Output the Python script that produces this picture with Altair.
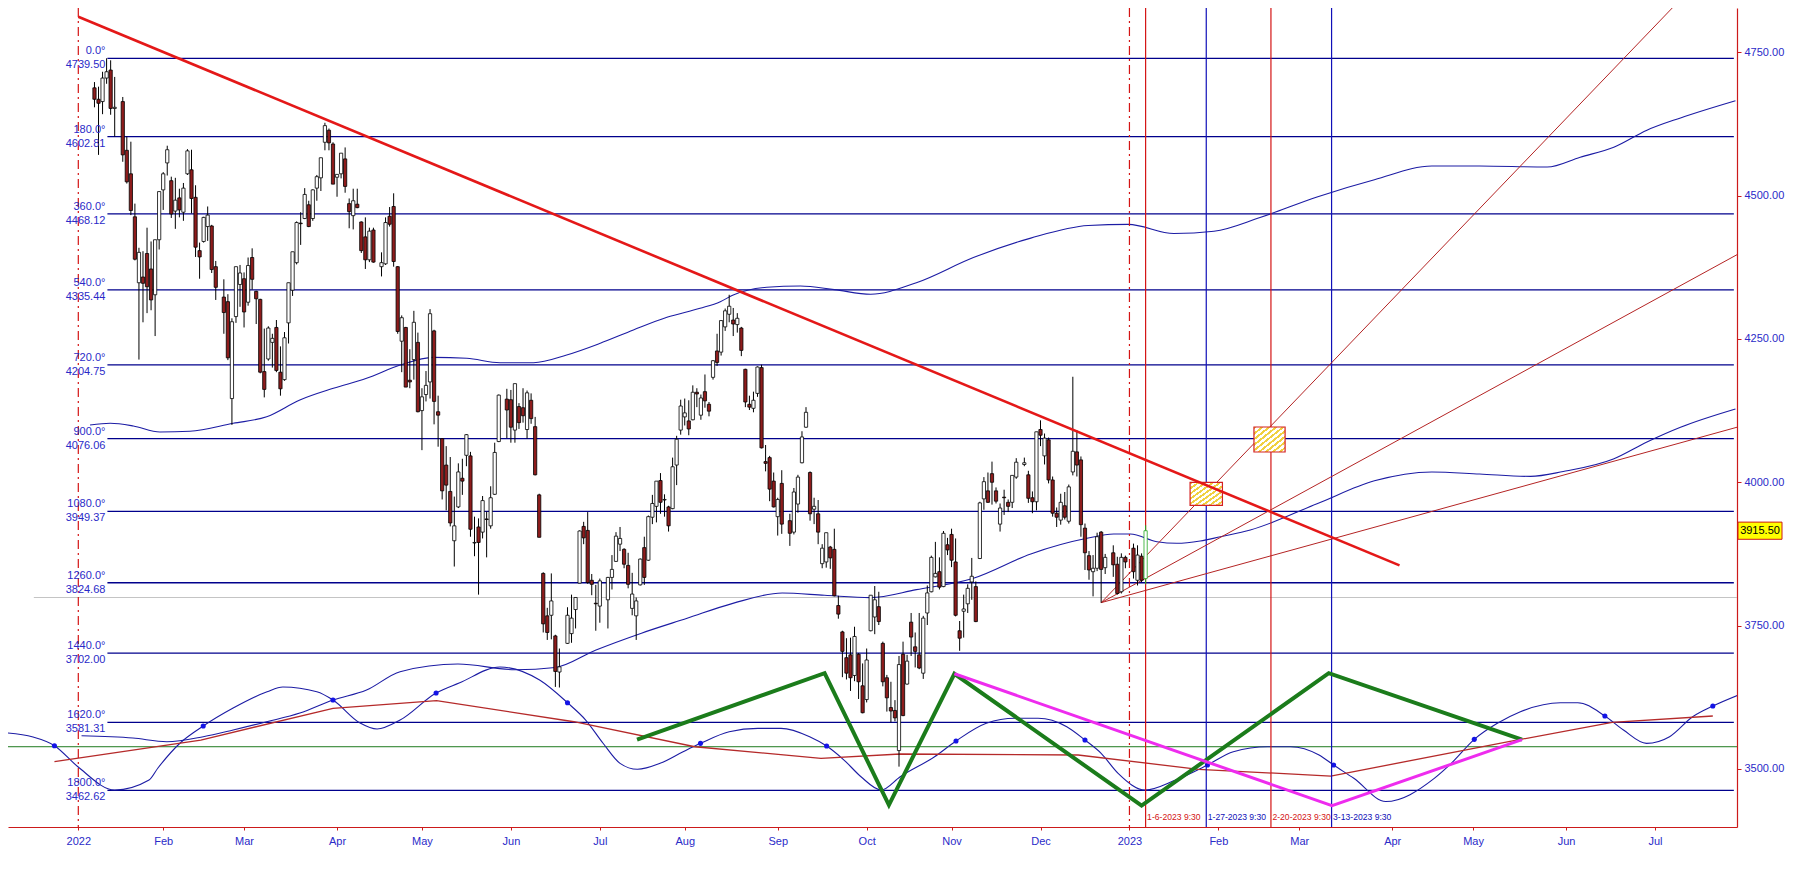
import altair as alt
import numpy as np
import pandas as pd

BASE_DAY = "2022-01-03"  # weekday index 0 of the time axis

# ---------------- candles: (day, open, high, low, close) ----------------
JAN22 = [(7, 4688, 4698, 4654, 4668), (10, 4668, 4690, 4571, 4661), (11, 4664, 4716, 4642, 4705),
         (12, 4705, 4739.5, 4695, 4716), (13, 4719, 4736, 4641, 4652), (14, 4652, 4707, 4603, 4654),
         (18, 4664, 4672, 4559, 4571), (19, 4579, 4603, 4521, 4524), (20, 4538, 4594, 4466, 4474),
         (21, 4463, 4486, 4387, 4389), (24, 4348, 4409, 4214, 4401), (25, 4358, 4403, 4279, 4347),
         (26, 4399, 4444, 4295, 4341), (27, 4372, 4420, 4300, 4318), (28, 4327, 4423, 4255, 4423),
         (31, 4423, 4507, 4406, 4507)]
FEB22 = [(1, 4510, 4541, 4475, 4538), (2, 4557, 4587, 4535, 4580), (3, 4526, 4533, 4461, 4468),
         (4, 4473, 4531, 4442, 4492), (7, 4496, 4512, 4462, 4475), (8, 4471, 4522, 4456, 4513),
         (9, 4538, 4581, 4536, 4578), (10, 4545, 4580, 4469, 4495), (11, 4497, 4518, 4393, 4410),
         (14, 4404, 4418, 4355, 4393), (15, 4420, 4463, 4418, 4462), (16, 4446, 4481, 4421, 4466),
         (17, 4447, 4449, 4365, 4371), (18, 4376, 4386, 4318, 4340), (22, 4323, 4354, 4259, 4296),
         (23, 4315, 4328, 4213, 4217), (24, 4146, 4286, 4100, 4280), (25, 4289, 4376, 4278, 4376),
         (28, 4345, 4379, 4306, 4365)]
MAR22 = [(1, 4355, 4366, 4270, 4297), (2, 4314, 4392, 4308, 4378), (3, 4392, 4408, 4336, 4354),
         (4, 4333, 4334, 4276, 4320), (7, 4319, 4320, 4190, 4192), (8, 4193, 4268, 4148, 4162),
         (9, 4215, 4272, 4212, 4269), (10, 4244, 4259, 4200, 4251), (11, 4270, 4283, 4192, 4195),
         (14, 4192, 4237, 4151, 4163), (15, 4179, 4262, 4177, 4252), (16, 4278, 4348, 4242, 4348),
         (17, 4335, 4402, 4325, 4402), (18, 4383, 4455, 4380, 4453), (21, 4452, 4471, 4414, 4451),
         (22, 4460, 4513, 4459, 4502), (23, 4484, 4491, 4445, 4446), (24, 4460, 4511, 4456, 4510),
         (25, 4513, 4536, 4491, 4533), (28, 4531, 4566, 4508, 4566), (29, 4593, 4627, 4579, 4622),
         (30, 4614, 4617, 4579, 4592), (31, 4590, 4593, 4520, 4520)]
APR22 = [(1, 4532, 4537, 4498, 4537), (4, 4538, 4574, 4530, 4574), (5, 4564, 4584, 4505, 4516),
         (6, 4486, 4495, 4443, 4472), (7, 4465, 4512, 4441, 4491), (8, 4485, 4512, 4478, 4479),
         (11, 4454, 4455, 4400, 4404), (12, 4428, 4462, 4372, 4388), (13, 4388, 4444, 4384, 4438),
         (14, 4440, 4444, 4383, 4384), (18, 4376, 4401, 4359, 4383), (19, 4381, 4462, 4379, 4453),
         (20, 4464, 4480, 4446, 4450), (21, 4481, 4504, 4376, 4385), (22, 4376, 4377, 4259, 4263),
         (25, 4246, 4291, 4192, 4287), (26, 4270, 4271, 4166, 4166), (27, 4178, 4232, 4164, 4175),
         (28, 4214, 4299, 4179, 4279), (29, 4244, 4261, 4122, 4123)]
MAY22 = [(2, 4125, 4164, 4056, 4149), (3, 4153, 4194, 4141, 4169), (4, 4175, 4302, 4146, 4294),
         (5, 4264, 4266, 4101, 4141), (6, 4123, 4151, 4062, 4117), (9, 4076, 4077, 3970, 3985),
         (10, 4030, 4063, 3951, 3995), (11, 3984, 4044, 3923, 3929), (12, 3898, 3975, 3853, 3924),
         (13, 3957, 4033, 3955, 4018), (16, 4007, 4041, 3978, 4002), (17, 4047, 4084, 4028, 4083),
         (18, 4046, 4053, 3905, 3918), (19, 3894, 3940, 3871, 3895), (20, 3922, 3937, 3804, 3895),
         (23, 3913, 3976, 3902, 3968), (24, 3936, 3949, 3869, 3935), (25, 3924, 3993, 3919, 3973),
         (26, 3979, 4069, 3978, 4052), (27, 4071, 4153, 4070, 4152), (31, 4145, 4163, 4077, 4126)]
JUN22 = [(1, 4144, 4161, 4069, 4096), (2, 4091, 4172, 4069, 4172), (3, 4132, 4138, 4093, 4104),
         (6, 4130, 4164, 4104, 4116), (7, 4092, 4160, 4076, 4156), (8, 4143, 4155, 4102, 4111),
         (9, 4097, 4114, 4012, 4013), (10, 3978, 3980, 3904, 3904), (13, 3841, 3843, 3738, 3753),
         (14, 3767, 3781, 3725, 3738), (15, 3768, 3841, 3726, 3793), (16, 3732, 3734, 3643, 3670),
         (17, 3669, 3710, 3642, 3678), (21, 3719, 3782, 3718, 3768), (22, 3736, 3804, 3720, 3763),
         (23, 3778, 3799, 3745, 3799), (24, 3824, 3916, 3824, 3915), (27, 3923, 3931, 3892, 3903),
         (28, 3916, 3948, 3823, 3825), (29, 3829, 3840, 3803, 3822), (30, 3789, 3821, 3741, 3788)]
JUL22 = [(1, 3784, 3832, 3755, 3828), (5, 3795, 3835, 3745, 3834), (6, 3834, 3873, 3813, 3848),
         (7, 3862, 3913, 3861, 3906), (8, 3892, 3922, 3880, 3902), (11, 3883, 3885, 3850, 3857),
         (12, 3855, 3877, 3815, 3822), (13, 3780, 3842, 3768, 3805), (14, 3767, 3799, 3725, 3793),
         (15, 3821, 3867, 3820, 3866), (18, 3886, 3905, 3821, 3834), (19, 3864, 3942, 3863, 3940),
         (20, 3939, 3978, 3927, 3963), (21, 3958, 4002, 3930, 4002), (22, 4003, 4016, 3945, 3965),
         (25, 3969, 3979, 3940, 3970), (26, 3957, 3959, 3914, 3924), (27, 3954, 4043, 3953, 4027),
         (28, 4030, 4081, 3995, 4075), (29, 4091, 4144, 4083, 4133)]
AUG22 = [(1, 4114, 4146, 4099, 4121), (2, 4107, 4143, 4082, 4093), (3, 4109, 4169, 4108, 4157),
         (4, 4157, 4164, 4131, 4154), (5, 4117, 4153, 4109, 4147), (8, 4158, 4188, 4130, 4142),
         (9, 4136, 4140, 4115, 4124), (10, 4183, 4213, 4179, 4212), (11, 4229, 4259, 4203, 4209),
         (12, 4227, 4283, 4221, 4282), (15, 4271, 4303, 4264, 4299), (16, 4293, 4327, 4279, 4307),
         (17, 4283, 4304, 4255, 4276), (18, 4275, 4295, 4261, 4286), (19, 4269, 4271, 4220, 4230),
         (22, 4197, 4198, 4131, 4140), (23, 4136, 4151, 4126, 4131), (24, 4129, 4158, 4122, 4143),
         (25, 4155, 4202, 4149, 4201), (26, 4200, 4205, 4059, 4060), (29, 4036, 4065, 4019, 4033),
         (30, 4043, 4046, 3967, 3988), (31, 4002, 4017, 3956, 3957)]
SEP22 = [(1, 3940, 3973, 3907, 3970), (2, 3998, 4021, 3910, 3927), (6, 3933, 3945, 3889, 3911),
         (7, 3913, 3990, 3909, 3983), (8, 3962, 4013, 3947, 4009), (9, 4034, 4089, 4033, 4079),
         (12, 4096, 4131, 4095, 4122), (13, 4017, 4019, 3933, 3945), (14, 3953, 3973, 3927, 3958),
         (15, 3945, 3969, 3892, 3913), (16, 3858, 3892, 3850, 3885), (19, 3861, 3912, 3851, 3912),
         (20, 3887, 3889, 3849, 3868), (21, 3883, 3919, 3801, 3802), (22, 3785, 3802, 3762, 3770),
         (23, 3739, 3741, 3660, 3705), (26, 3694, 3728, 3656, 3667), (27, 3699, 3729, 3636, 3659),
         (28, 3663, 3748, 3653, 3731), (29, 3700, 3702, 3622, 3652), (30, 3645, 3684, 3597, 3598)]
OCT22 = [(3, 3621, 3710, 3616, 3690), (4, 3741, 3803, 3740, 3803), (5, 3765, 3819, 3735, 3795),
         (6, 3783, 3809, 3751, 3757), (7, 3719, 3722, 3644, 3652), (10, 3659, 3664, 3600, 3624),
         (11, 3607, 3652, 3581, 3601), (12, 3602, 3620, 3583, 3589), (13, 3532, 3697, 3504, 3682),
         (14, 3700, 3722, 3592, 3593), (17, 3648, 3699, 3647, 3688), (18, 3756, 3772, 3697, 3730),
         (19, 3713, 3738, 3677, 3705), (20, 3699, 3772, 3674, 3676), (21, 3667, 3767, 3657, 3763),
         (24, 3772, 3820, 3751, 3807), (25, 3809, 3872, 3808, 3869), (26, 3835, 3896, 3834, 3841),
         (27, 3844, 3869, 3813, 3817), (28, 3818, 3915, 3817, 3911), (31, 3891, 3903, 3873, 3882)]
NOV22 = [(1, 3909, 3919, 3852, 3864), (2, 3861, 3902, 3766, 3768), (3, 3741, 3758, 3706, 3728),
         (4, 3775, 3804, 3729, 3779), (7, 3788, 3822, 3772, 3815), (8, 3826, 3868, 3795, 3836),
         (9, 3818, 3827, 3756, 3757), (10, 3867, 3966, 3866, 3964), (11, 3971, 4009, 3952, 4001),
         (14, 3985, 4017, 3964, 3965), (15, 4015, 4036, 3961, 4000), (16, 3985, 3991, 3963, 3967),
         (17, 3927, 3963, 3914, 3955), (18, 3974, 3987, 3943, 3973), (21, 3965, 3970, 3948, 3958),
         (22, 3965, 4012, 3955, 4012), (23, 4009, 4042, 4006, 4035), (25, 4031, 4043, 4028, 4034),
         (28, 4013, 4020, 3964, 3972), (29, 3973, 3984, 3946, 3966), (30, 3966, 4088, 3951, 4088)]
DEC22 = [(1, 4092, 4108, 4063, 4082), (2, 4046, 4085, 4031, 4077), (5, 4074, 4078, 3998, 4004),
         (6, 4004, 4010, 3940, 3946), (7, 3946, 3956, 3922, 3939), (8, 3934, 3980, 3926, 3965),
         (9, 3959, 3983, 3935, 3939), (12, 3932, 3996, 3928, 3992), (13, 4018, 4184, 4012, 4054),
         (14, 4053, 4091, 4010, 4030), (15, 4039, 4045, 3905, 3926), (16, 3920, 3928, 3847, 3877),
         (19, 3872, 3880, 3830, 3847), (20, 3844, 3873, 3801, 3850), (21, 3850, 3912, 3845, 3905),
         (22, 3913, 3915, 3790, 3848), (23, 3851, 3875, 3840, 3869), (27, 3877, 3890, 3835, 3856),
         (28, 3857, 3870, 3804, 3806), (29, 3809, 3876, 3806, 3869), (30, 3869, 3872, 3850, 3861)]
JAN23 = [(3, 3885, 3893, 3832, 3844), (4, 3829, 3890, 3820, 3873), (5, 3871, 3876, 3826, 3829),
         (6, 3832, 3925, 3822, 3915.5)]
CANDLE_MONTHS = [("2022-01", JAN22), ("2022-02", FEB22), ("2022-03", MAR22), ("2022-04", APR22),
                 ("2022-05", MAY22), ("2022-06", JUN22), ("2022-07", JUL22), ("2022-08", AUG22),
                 ("2022-09", SEP22), ("2022-10", OCT22), ("2022-11", NOV22), ("2022-12", DEC22),
                 ("2023-01", JAN23)]

# ---------------- Gann levels ----------------
LEVEL_DEG = [0, 180, 360, 540, 720, 900, 1080, 1260, 1440, 1620, 1800]
LEVEL_PRICE = [4739.50, 4602.81, 4468.12, 4335.44, 4204.75, 4076.06, 3949.37, 3824.68, 3702.00, 3581.31, 3462.62]
LEVEL_START_IDX = 7.2
LEVEL_END_IDX = 409.5
GRAY_LEVEL = 3799.0
GRAY_START_IDX = -11.0
GREEN_LEVEL = 3538.7

# ---------------- drawn lines ----------------
TREND_IDX = [0.0, 326.8]
TREND_PRICE = [4812.0, 3855.0]
FAN_ORIGIN_IDX = 253.0
FAN_ORIGIN_PRICE = 3790.0
FAN_END_IDX = 410.3
FAN_END_PRICE = [4945.0, 4397.0, 4096.0]

DASHED_DATES = ["2022-01-03", "2023-01-02"]
MARK_DATES = ["2023-01-06", "2023-01-27", "2023-02-20", "2023-03-13"]
MARK_TEXT = ["1-6-2023 9:30", "1-27-2023 9:30", "2-20-2023 9:30", "3-13-2023 9:30"]
MARK_KIND = ["red", "blue", "red", "blue"]

BOX_IDX0 = [275.0, 290.8]
BOX_IDX1 = [283.0, 298.5]
BOX_LO = [3959.8, 4052.8]
BOX_HI = [3999.9, 4096.4]

GREEN_IDX = [138.2, 184.6, 200.5, 216.7, 263.0, 309.3, 357.1]
GREEN_PRICE = [3551, 3667, 3437, 3666, 3436, 3667, 3551]
MAG_IDX = [216.7, 310.1, 357.1]
MAG_PRICE = [3666, 3436, 3551]

AVG_IDX = [-5.9, 30.3, 63.0, 88.6, 122.6, 152.5, 183.7, 203.3, 247.3, 277.1, 309.8, 353.8, 379.4, 404.3]
AVG_PRICE = [3512.6, 3550.4, 3605.7, 3619.0, 3582.3, 3538.7, 3518.5, 3526.0, 3524.3, 3499.3, 3487.6,
             3547.5, 3581.3, 3592.3]

A_IDX = [2.9, 7.9, 13.6, 20.2, 27.6, 38.3, 46.6, 54.8, 63.1, 71.3, 79.6, 87.8, 96.1, 104.3, 112.6,
         120.8, 129.1, 137.3, 145.6, 153.8, 158.8, 162.0, 170.3, 178.6, 187.0, 196.0, 207.3, 221.4,
         235.6, 249.8, 259.7, 271.0, 280.9, 292.3, 306.4, 320.6, 334.8, 346.6, 363.3, 371.5, 379.8,
         388.0, 396.3, 409.9]
A_PRICE = [4099.9, 4102.8, 4098.1, 4087.7, 4088.9, 4102.8, 4114.3, 4143.5, 4163.9, 4181.3, 4204.5,
           4217.9, 4216.2, 4208.5, 4208.5, 4222.0, 4242.4, 4265.6, 4287.7, 4303.4, 4315.0, 4326.6,
           4340.1, 4342.3, 4336.0, 4328.0, 4348.0, 4391.9, 4425.8, 4447.8, 4449.8, 4433.8, 4437.8,
           4461.8, 4497.7, 4527.7, 4551.6, 4551.5, 4549.9, 4567.0, 4584.3, 4614.1, 4635.5, 4665.5]

B_IDX = [0.8, 13.5, 21.9, 30.9, 38.3, 46.6, 54.8, 63.0, 71.3, 79.6, 93.9, 108.1, 118.0, 127.9, 139.3,
         150.6, 161.9, 174.1, 184.6, 195.9, 207.3, 221.4, 235.6, 249.5, 256.1, 260.2, 266.8, 271.7,
         277.5, 282.5, 289.9, 306.4, 320.6, 334.8, 346.6, 359.2, 367.3, 379.7, 388.0, 396.3, 409.9]
B_PRICE = [3557.9, 3553.9, 3547.5, 3556.2, 3567.9, 3582.3, 3597.5, 3620.2, 3637.6, 3669.6, 3682.9,
           3673.0, 3677.0, 3707.0, 3736.8, 3762.8, 3788.8, 3806.8, 3802.8, 3798.8, 3812.7, 3832.7,
           3875.0, 3902.2, 3909.7, 3909.7, 3896.3, 3893.5, 3897.5, 3905.0, 3916.7, 3962.5, 4002.5,
           4018.0, 4014.4, 4010.2, 4018.7, 4040.6, 4070.2, 4095.9, 4127.8]

C_IDX = [-19.4, -11.2, -5.9, -0.1, 9.0, 17.5, 19.7, 25.2, 30.9, 38.3, 46.7, 50.6, 59.0, 63.0, 69.7,
         73.9, 79.6, 88.5, 94.2, 104.3, 114.1, 121.0, 125.5, 129.8, 134.0, 138.3, 143.9, 149.6, 153.9,
         161.0, 168.1, 173.8, 180.9, 185.1, 189.4, 193.6, 198.6, 203.3, 211.8, 217.1, 224.6, 231.7,
         237.4, 244.5, 249.0, 253.0, 257.2, 263.9, 271.4, 279.3, 285.7, 294.2, 299.8, 306.9, 310.5,
         315.5, 323.4, 335.4, 339.6, 345.3, 351.0, 356.7, 366.6, 370.9, 377.6, 382.2, 387.9, 393.6,
         399.3, 404.3, 410.6]
C_PRICE = [3563.8, 3555.6, 3540.5, 3503.8, 3463.2, 3480.6, 3501.6, 3545.2, 3574.8, 3606.2, 3634.6,
           3642.8, 3634.6, 3620.2, 3580.0, 3569.6, 3585.3, 3632.4, 3649.8, 3677.7, 3655.0, 3615.5,
           3585.3, 3544.8, 3509.7, 3499.3, 3509.7, 3530.0, 3544.6, 3564.9, 3570.8, 3570.8, 3556.2,
           3539.9, 3515.5, 3486.4, 3463.2, 3486.4, 3521.3, 3548.7, 3579.5, 3588.3, 3588.3, 3573.6,
           3550.4, 3527.2, 3492.3, 3463.2, 3480.6, 3506.8, 3530.0, 3538.7, 3538.7, 3524.2, 3506.8,
           3483.6, 3443.1, 3483.6, 3509.7, 3551.6, 3579.5, 3599.8, 3615.5, 3615.5, 3592.3, 3567.9,
           3544.6, 3556.2, 3591.0, 3609.7, 3628.9]
DOT_IDX = [-5.9, 30.9, 63.0, 88.5, 121.0, 153.9, 185.1, 217.1, 249.0, 279.3, 310.5, 345.3, 377.6, 404.3]
DOT_PRICE = [3540.5, 3574.8, 3620.2, 3632.4, 3615.5, 3544.6, 3539.9, 3548.7, 3550.4, 3506.8, 3506.8,
             3551.6, 3592.3, 3609.7]

LAST_PRICE = 3915.5
Y_TICKS = [3500, 3750, 4000, 4250, 4500, 4750]

# ---------------- layout / style ----------------
W, H = 1729, 819
X_DOMAIN = [-17.39, 410.28]
Y_DOMAIN = [3398.7, 4827.2]
FONT = "Liberation Sans"
RED = "#d41414"
AXRED = "#cc1a1a"
BLUE_TXT = "#2a2ac8"
NAVY = "#00008c"
CURVE = "#1c1ca4"


def widx(d):
    return int(np.busday_count(BASE_DAY, np.datetime64(d)))


rows = []
for ym, lst in CANDLE_MONTHS:
    for d, o, h, l, c in lst:
        date = f"{ym}-{d:02d}"
        rows.append(dict(date=date, idx=widx(date), open=o, high=h, low=l, close=c))
cd = pd.DataFrame(rows)
cd["x0"] = cd["idx"] - 0.4
cd["x1"] = cd["idx"] + 0.4
cd["fill"] = np.where(cd["close"] >= cd["open"], "#ffffff", "#8e1c1c")
cd["edge"] = "#000000"
cd.loc[cd.index[-1], "edge"] = "#22aa22"

# month ticks
month_idx, month_lab = [], []
for m in pd.date_range("2022-01-01", "2023-07-01", freq="MS"):
    first = np.busday_offset(np.datetime64(m.date()), 0, roll="forward")
    month_idx.append(int(np.busday_count(BASE_DAY, first)))
    month_lab.append(str(m.year) if m.month == 1 else m.strftime("%b"))
label_expr = ("[" + ",".join(f"'{s}'" for s in month_lab) + "][indexof(["
              + ",".join(str(i) for i in month_idx) + "], datum.value)]")

XS = alt.Scale(domain=X_DOMAIN, nice=False, zero=False)
YS = alt.Scale(domain=Y_DOMAIN, nice=False, zero=False)

X_AXIS = alt.Axis(values=month_idx, labelExpr=label_expr, title=None, tickSize=3, labelPadding=5,
                  labelOverlap=False, labelFlush=False, grid=False, labelFont=FONT, labelFontSize=11,
                  labelColor=BLUE_TXT, domainColor=AXRED, tickColor=AXRED, domainWidth=1.2)
Y_AXIS = alt.Axis(orient="right", values=Y_TICKS, format=".2f", title=None, tickSize=4, labelPadding=3,
                  labelOverlap=False, labelFlush=False, grid=False, labelFont=FONT, labelFontSize=11,
                  labelColor=BLUE_TXT, domainColor=AXRED, tickColor=AXRED, domainWidth=1.2)


def xq(f):
    return alt.X(f"{f}:Q", scale=XS, axis=X_AXIS)


def yq(f):
    return alt.Y(f"{f}:Q", scale=YS, axis=Y_AXIS)


layers = []

layers.append(alt.Chart(cd).mark_rule(strokeWidth=1, opacity=0).encode(x=xq("idx"), y=yq("low")))

layers.append(alt.Chart(pd.DataFrame({"p": [GREEN_LEVEL]})).mark_rule(color="#1f7a1f", strokeWidth=1)
              .encode(y=yq("p")))
layers.append(alt.Chart(pd.DataFrame({"x0": [GRAY_START_IDX], "x1": [X_DOMAIN[1]], "p": [GRAY_LEVEL]}))
              .mark_rule(color="#c4c4c4", strokeWidth=1.2).encode(x=xq("x0"), x2="x1", y=yq("p")))

lv = pd.DataFrame({"deg": LEVEL_DEG, "price": LEVEL_PRICE})
lv["x0"] = LEVEL_START_IDX
lv["x1"] = LEVEL_END_IDX
lv["deg_txt"] = [f"{d:.1f}°" for d in LEVEL_DEG]
lv["price_txt"] = [f"{p:.2f}" for p in LEVEL_PRICE]
layers.append(alt.Chart(lv).mark_rule(color=NAVY, strokeWidth=1.3).encode(x=xq("x0"), x2="x1", y=yq("price")))

for xi, pi in [(A_IDX, A_PRICE), (B_IDX, B_PRICE), (C_IDX, C_PRICE)]:
    layers.append(alt.Chart(pd.DataFrame({"idx": xi, "price": pi}))
                  .mark_line(color=CURVE, strokeWidth=1.1, interpolate="monotone", clip=True)
                  .encode(x=xq("idx"), y=yq("price")))

layers.append(alt.Chart(pd.DataFrame({"idx": AVG_IDX, "price": AVG_PRICE}))
              .mark_line(color="#b52a2a", strokeWidth=1.3, clip=True).encode(x=xq("idx"), y=yq("price")))
layers.append(alt.Chart(pd.DataFrame({"idx": DOT_IDX, "price": DOT_PRICE}))
              .mark_circle(size=26, color="#1414e6", opacity=1, clip=True).encode(x=xq("idx"), y=yq("price")))

vd = pd.DataFrame({"date": DASHED_DATES})
vd["idx"] = [widx(d) for d in DASHED_DATES]
layers.append(alt.Chart(vd).mark_rule(color=RED, strokeWidth=1.2, strokeDash=[9, 4, 2, 4]).encode(x=xq("idx")))

vm = pd.DataFrame({"date": MARK_DATES, "text": MARK_TEXT, "kind": MARK_KIND})
vm["idx"] = [widx(d) for d in MARK_DATES]
vm["color"] = vm["kind"].map({"red": RED, "blue": "#1010b8"})
layers.append(alt.Chart(vm).mark_rule(strokeWidth=1.2)
              .encode(x=xq("idx"), color=alt.Color("color:N", scale=None)))

fan_rows = []
for k, ep in enumerate(FAN_END_PRICE):
    fan_rows.append(dict(fan=k, idx=FAN_ORIGIN_IDX, price=FAN_ORIGIN_PRICE))
    fan_rows.append(dict(fan=k, idx=FAN_END_IDX, price=ep))
layers.append(alt.Chart(pd.DataFrame(fan_rows)).mark_line(color="#b42424", strokeWidth=1, clip=True)
              .encode(x=xq("idx"), y=yq("price"), detail="fan:N"))

# hatched boxes
stops = []
N = 9
for k in range(N):
    s = k / N
    stops += [alt.GradientStop(color="#ffffff", offset=s), alt.GradientStop(color="#f0d040", offset=s + 0.001),
              alt.GradientStop(color="#f0d040", offset=s + 0.45 / N),
              alt.GradientStop(color="#ffffff", offset=s + 0.45 / N + 0.001)]
stops.append(alt.GradientStop(color="#ffffff", offset=1))
hatch = alt.Gradient(gradient="linear", stops=stops, x1=0, y1=0, x2=1, y2=1)
bx = pd.DataFrame({"x0": BOX_IDX0, "x1": BOX_IDX1, "lo": BOX_LO, "hi": BOX_HI})
layers.append(alt.Chart(bx).mark_rect(fill=hatch, stroke="#d42020", strokeWidth=1.2)
              .encode(x=xq("x0"), x2="x1", y=yq("lo"), y2="hi"))

# candles
layers.append(alt.Chart(cd).mark_rule(strokeWidth=1).encode(
    x=xq("idx"), y=yq("low"), y2="high:Q", color=alt.Color("edge:N", scale=None)))
layers.append(alt.Chart(cd).mark_rect(strokeWidth=0.8).encode(
    x=xq("x0"), x2="x1", y=yq("open"), y2="close",
    fill=alt.Fill("fill:N", scale=None), stroke=alt.Stroke("edge:N", scale=None)))

layers.append(alt.Chart(pd.DataFrame({"idx": TREND_IDX, "price": TREND_PRICE}))
              .mark_line(color="#e41818", strokeWidth=2.6).encode(x=xq("idx"), y=yq("price")))
layers.append(alt.Chart(pd.DataFrame({"idx": GREEN_IDX, "price": GREEN_PRICE}))
              .mark_line(color="#1b7c1b", strokeWidth=4, strokeJoin="miter").encode(x=xq("idx"), y=yq("price")))
layers.append(alt.Chart(pd.DataFrame({"idx": MAG_IDX, "price": MAG_PRICE}))
              .mark_line(color="#ee2cee", strokeWidth=3).encode(x=xq("idx"), y=yq("price")))

# texts
layers.append(alt.Chart(lv).mark_text(align="right", baseline="middle", dx=-2, dy=-7, font=FONT,
                                      fontSize=11, color=BLUE_TXT)
              .encode(x=xq("x0"), y=yq("price"), text="deg_txt:N"))
layers.append(alt.Chart(lv).mark_text(align="right", baseline="middle", dx=-2, dy=7, font=FONT,
                                      fontSize=11, color=BLUE_TXT)
              .encode(x=xq("x0"), y=yq("price"), text="price_txt:N"))
layers.append(alt.Chart(vm).mark_text(align="left", baseline="middle", dx=1.5, font=FONT, fontSize=8.6)
              .encode(x=xq("idx"), y=alt.value(H - 10), text="text:N", color=alt.Color("color:N", scale=None)))

lp = pd.DataFrame({"price": [LAST_PRICE], "txt": [f"{LAST_PRICE:.2f}"]})
layers.append(alt.Chart(lp).mark_point(shape="M-1,-0.39L1,-0.39L1,0.39L-1,0.39Z", size=1936, filled=True,
                                       fill="#ffff00", stroke="#cc1a1a", strokeWidth=1, opacity=1)
              .encode(x=alt.value(W + 23), y=yq("price")))
layers.append(alt.Chart(lp).mark_text(font=FONT, fontSize=11, color="#000000", align="center", baseline="middle")
              .encode(x=alt.value(W + 23), y=yq("price"), text="txt:N"))

chart = (alt.layer(*layers)
         .properties(width=W, height=H, autosize=alt.AutoSizeParams(type="none"),
                     padding={"left": 0, "top": 0, "right": 52, "bottom": 50}, background="white")
         .configure_view(strokeWidth=0))

chart.save("out.html", embed_options={"renderer": "svg", "actions": False})
